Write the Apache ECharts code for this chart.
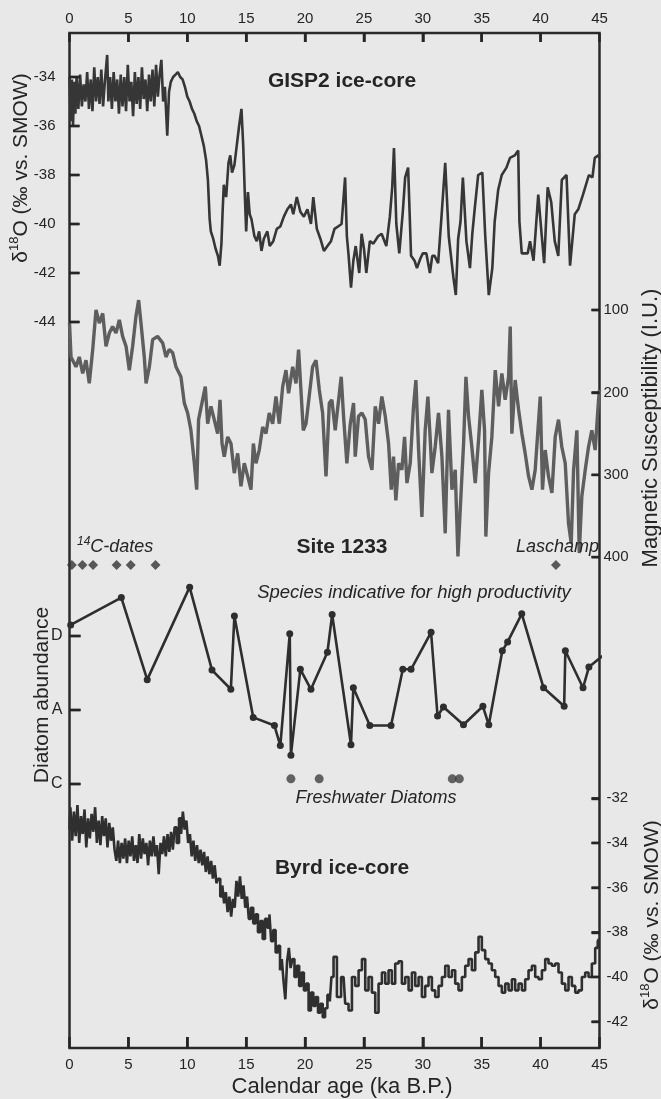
<!DOCTYPE html>
<html>
<head>
<meta charset="utf-8">
<title>GISP2 / Site 1233 / Byrd</title>
<script src="https://cdn.jsdelivr.net/npm/echarts@6/dist/echarts.min.js"></script>
<style>
  html, body { margin: 0; padding: 0; background: #e8e8e8; }
  #chart { width: 661px; height: 1099px; }
</style>
</head>
<body>
<div id="chart"></div>
<script>
// tick values
var ageTicks = [0, 5, 10, 15, 20, 25, 30, 35, 40, 45];
var gispTicks = [-34, -36, -38, -40, -42, -44];
var magTicks = [100, 200, 300, 400];
var byrdTicks = [-32, -34, -36, -38, -40, -42];
var diatomLevels = [1, 2, 3];
var diatomClasses = ['C', 'A', 'D'];

// GISP2 d18O [age ka, permil]
var gisp2 = [
  [0.0,-34.0],[0.1,-35.8],[0.2,-34.1],[0.3,-36.0],[0.4,-34.2],[0.5,-35.5],[0.6,-34.0],[0.75,-35.3],[0.9,-33.9],
  [1.05,-35.2],[1.2,-34.3],[1.35,-35.0],[1.5,-33.8],[1.65,-35.3],[1.8,-34.1],[1.95,-35.4],[2.1,-33.6],[2.25,-35.0],
  [2.4,-34.0],[2.55,-35.1],[2.7,-33.7],[2.85,-35.2],[3.0,-34.2],[3.2,-33.1],[3.3,-35.0],[3.45,-34.0],[3.6,-35.3],
  [3.75,-33.8],[3.9,-35.0],[4.05,-34.1],[4.2,-35.5],[4.35,-33.9],[4.5,-35.2],[4.65,-34.0],[4.8,-35.4],[4.95,-33.5],
  [5.1,-35.0],[5.25,-34.2],[5.4,-35.6],[5.55,-33.8],[5.7,-35.1],[5.85,-34.0],[6.0,-35.3],[6.15,-33.6],[6.3,-34.9],
  [6.45,-34.1],[6.6,-35.4],[6.75,-33.9],[6.9,-35.0],[7.05,-33.7],[7.2,-35.2],[7.35,-33.5],[7.5,-34.8],[7.65,-33.9],
  [7.8,-33.3],[7.95,-35.0],[8.1,-34.4],[8.3,-36.4],[8.45,-34.6],[8.6,-34.2],[8.8,-34.0],[9.0,-33.9],[9.2,-33.8],
  [9.4,-34.0],[9.6,-34.1],[9.8,-34.4],[10.0,-34.8],[10.2,-35.0],[10.4,-35.3],[10.6,-35.5],[10.8,-35.8],[11.0,-36.0],
  [11.2,-36.4],[11.4,-36.8],[11.6,-37.4],[11.75,-38.2],[11.9,-39.8],[12.0,-40.3],[12.2,-40.6],[12.4,-41.0],[12.6,-41.3],
  [12.75,-41.7],[12.9,-40.8],[13.0,-39.5],[13.1,-38.4],[13.3,-38.9],[13.5,-37.5],[13.65,-37.2],[13.8,-37.9],[14.0,-37.6],
  [14.2,-36.8],[14.4,-36.0],[14.6,-35.3],[14.75,-36.8],[14.9,-39.0],[15.0,-40.3],[15.15,-38.7],[15.3,-39.6],[15.45,-39.8],
  [15.7,-40.5],[15.9,-40.7],[16.1,-40.3],[16.3,-41.1],[16.5,-40.6],[16.8,-40.3],[17.0,-40.9],[17.3,-40.7],[17.6,-40.2],
  [17.9,-40.1],[18.2,-39.7],[18.5,-39.4],[18.8,-39.2],[19.0,-39.6],[19.3,-38.9],[19.6,-39.5],[19.9,-39.7],[20.2,-39.4],
  [20.5,-40.0],[20.7,-38.9],[21.0,-40.2],[21.3,-40.6],[21.6,-41.1],[21.9,-40.9],[22.2,-40.7],[22.5,-40.2],[22.8,-40.1],
  [23.1,-40.0],[23.4,-38.1],[23.55,-40.5],[23.7,-41.3],[23.9,-42.6],[24.1,-41.5],[24.3,-40.9],[24.6,-42.0],[24.8,-40.4],
  [25.0,-41.0],[25.2,-42.0],[25.5,-40.7],[25.8,-40.8],[26.2,-40.5],[26.5,-40.4],[26.9,-40.9],[27.2,-39.7],[27.4,-38.5],
  [27.55,-36.9],[27.75,-40.0],[28.0,-41.2],[28.3,-39.5],[28.5,-38.1],[28.75,-37.7],[29.0,-41.3],[29.3,-41.5],[29.5,-41.8],
  [29.8,-41.4],[30.0,-41.2],[30.3,-41.2],[30.6,-42.0],[30.8,-41.3],[31.0,-41.3],[31.3,-41.6],[31.6,-39.6],[31.9,-37.5],
  [32.2,-40.5],[32.6,-42.2],[32.8,-42.9],[33.0,-40.6],[33.2,-39.9],[33.4,-38.1],[33.7,-40.7],[34.0,-41.8],[34.2,-40.4],
  [34.4,-39.4],[34.7,-38.0],[35.05,-37.9],[35.3,-40.5],[35.6,-42.9],[35.9,-41.8],[36.1,-39.9],[36.4,-38.6],[36.7,-38.0],
  [37.1,-37.7],[37.4,-37.3],[37.8,-37.2],[38.1,-37.0],[38.2,-39.9],[38.4,-41.2],[38.9,-41.2],[39.1,-40.7],[39.4,-41.5],
  [39.8,-38.8],[40.1,-40.5],[40.3,-41.6],[40.6,-38.5],[40.9,-39.1],[41.2,-40.7],[41.5,-41.3],[41.8,-38.2],[42.2,-38.0],
  [42.5,-41.7],[42.9,-39.6],[43.2,-39.4],[43.6,-38.8],[44.1,-38.0],[44.4,-38.1],[44.6,-37.3],[44.9,-37.2],[45.0,-37.3]
];

// Site 1233 magnetic susceptibility [age ka, I.U.]
var site1233 = [
  [0.0,116],[0.13,157],[0.55,169],[0.83,157],[1.12,177],[1.4,161],[1.68,189],[1.97,148],[2.25,100],[2.53,116],
  [2.82,104],[3.1,144],[3.38,128],[3.66,120],[3.95,128],[4.23,112],[4.51,132],[4.8,144],[5.08,173],[5.36,144],
  [5.64,108],[5.87,88],[6.07,116],[6.35,157],[6.5,189],[6.78,169],[7.06,136],[7.48,132],[7.91,140],[8.19,157],
  [8.47,148],[8.76,152],[9.04,169],[9.46,181],[9.75,213],[10.03,225],[10.31,246],[10.6,286],[10.8,318],[10.96,233],
  [11.3,209],[11.53,193],[11.73,238],[12.01,217],[12.29,233],[12.58,250],[12.78,209],[12.95,262],[13.14,278],[13.43,254],
  [13.71,262],[13.99,298],[14.28,274],[14.56,314],[14.84,286],[15.13,302],[15.41,318],[15.61,262],[15.83,286],[16.11,270],
  [16.4,242],[16.68,250],[16.96,225],[17.25,238],[17.53,205],[17.81,238],[18.1,193],[18.38,173],[18.6,201],[18.95,169],
  [19.23,189],[19.45,148],[19.65,197],[19.85,246],[20.08,238],[20.64,169],[20.93,161],[21.21,197],[21.49,225],[21.78,302],
  [22.06,213],[22.28,209],[22.56,246],[23.07,181],[23.27,229],[23.55,286],[23.84,238],[24.12,213],[24.26,278],[24.54,229],
  [24.83,225],[25.11,233],[25.39,278],[25.68,294],[25.96,217],[26.24,238],[26.52,205],[26.81,229],[27.09,262],[27.32,318],
  [27.51,278],[27.71,331],[27.94,286],[28.22,294],[28.45,254],[28.65,310],[28.93,286],[29.21,217],[29.41,185],[29.64,270],
  [29.92,351],[30.2,246],[30.43,205],[30.63,258],[30.77,298],[31.05,266],[31.33,225],[31.62,278],[31.9,371],[32.18,221],
  [32.47,318],[32.75,294],[32.98,399],[33.26,318],[33.46,262],[33.66,181],[33.88,229],[34.16,266],[34.45,310],[34.73,258],
  [35.01,197],[35.24,246],[35.35,375],[35.58,298],[35.86,254],[36.15,173],[36.43,217],[36.71,177],[36.99,209],[37.28,181],
  [37.42,120],[37.56,250],[37.84,185],[38.13,221],[38.41,250],[38.69,274],[38.98,302],[39.26,318],[39.54,294],[39.97,205],
  [40.16,318],[40.39,270],[40.67,302],[40.96,322],[41.24,254],[41.52,233],[41.8,266],[42.09,286],[42.37,359],[42.6,383],
  [42.8,294],[43.08,246],[43.28,395],[43.5,326],[43.79,294],[44.07,266],[44.35,246],[44.63,270],[44.92,209],[45.0,197]
];

// diatoms: high-productivity species abundance class (1 = C, 2 = A, 3 = D)
var diatomHighProd = [
  [0.1,3.15],[4.4,3.52],[6.6,2.41],[10.2,3.66],[12.1,2.54],[13.7,2.28],[14.0,3.27],[15.6,1.9],[17.4,1.79],[17.9,1.52],
  [18.7,3.03],[18.8,1.39],[19.6,2.55],[20.5,2.28],[21.9,2.78],[22.3,3.29],[23.9,1.53],[24.1,2.3],[25.5,1.79],[27.3,1.79],
  [28.3,2.55],[29.0,2.55],[30.7,3.05],[31.25,1.92],[31.75,2.04],[33.45,1.8],[35.1,2.05],[35.6,1.8],[36.75,2.8],[37.2,2.92],
  [38.4,3.3],[40.25,2.3],[42.0,2.05],[42.1,2.8],[43.6,2.3],[44.1,2.58],[45.4,2.75]
];
var freshwaterAges = [18.8, 21.2, 32.5, 33.1];
var c14Ages = [0.2, 1.1, 2.0, 4.0, 5.2, 7.3];
var laschampAges = [41.3];

// Byrd d18O [age ka, permil]
var byrd = [
  [0.0,-33.4],[0.15,-32.4],[0.3,-33.9],[0.45,-32.6],[0.6,-33.7],[0.75,-32.3],[0.9,-34.0],[1.05,-32.8],[1.2,-33.6],
  [1.35,-32.5],[1.5,-34.2],[1.65,-32.9],[1.8,-33.8],[1.95,-32.7],[2.1,-33.5],[2.25,-32.4],[2.4,-34.0],[2.55,-33.0],
  [2.7,-34.1],[2.85,-32.8],[3.0,-33.7],[3.15,-32.9],[3.3,-34.2],[3.45,-33.1],[3.6,-33.9],[3.75,-33.3],[3.9,-34.3],
  [4.05,-34.8],[4.2,-33.9],[4.35,-34.9],[4.5,-34.0],[4.65,-34.7],[4.8,-33.8],[4.95,-34.9],[5.1,-33.9],[5.25,-34.6],
  [5.4,-33.7],[5.55,-34.8],[5.7,-34.1],[5.85,-34.9],[6.0,-33.6],[6.15,-34.7],[6.3,-33.8],[6.45,-34.5],[6.6,-34.0],
  [6.75,-35.0],[6.9,-33.9],[7.05,-34.6],[7.2,-33.7],[7.35,-34.6],[7.5,-34.1],[7.65,-35.4],[7.8,-34.0],[7.95,-34.5],
  [8.1,-33.7],[8.25,-34.6],[8.4,-33.6],[8.55,-34.4],[8.7,-33.5],[8.85,-34.3],[9.0,-33.3],[9.2,-34.0],[9.4,-32.9],
  [9.55,-33.6],[9.7,-32.6],[9.85,-33.4],[10.0,-33.0],[10.15,-34.0],[10.3,-33.6],[10.45,-34.6],[10.6,-33.9],[10.75,-34.8],
  [10.9,-34.1],[11.05,-34.9],[11.2,-34.3],[11.35,-35.0],[11.5,-34.4],[11.65,-35.3],[11.8,-34.6],[11.95,-35.4],[12.1,-34.8],
  [12.25,-35.6],[12.4,-35.0],[12.55,-35.8],[12.7,-35.6],[12.9,-36.4],[13.05,-35.9],[13.2,-36.7],[13.35,-36.2],[13.5,-37.1],
  [13.65,-36.4],[13.8,-37.3],[13.95,-36.5],[14.1,-36.9],[14.25,-35.7],[14.4,-36.4],[14.55,-35.5],[14.7,-36.5],[14.85,-35.9],
  [15.0,-36.9],[15.15,-36.4],[15.3,-37.4],[15.5,-36.9],[15.7,-37.6],[15.9,-37.2],[16.1,-38.0],[16.3,-37.5],[16.5,-38.3],
  [16.7,-37.4],[16.9,-37.8],[17.05,-37.2],[17.2,-38.4],[17.4,-37.9],[17.6,-38.9],[17.8,-38.6],[17.95,-39.7],[18.1,-39.2],
  [18.25,-40.2],[18.4,-41.0],[18.55,-39.3],[18.7,-38.7],[18.85,-39.6],[19.0,-39.2],[19.2,-40.0],[19.4,-39.5],[19.6,-40.4],
  [19.8,-39.8],[20.0,-40.6],[20.2,-40.3],[20.4,-41.5],[20.6,-40.7],[20.8,-41.3],[21.0,-40.9],[21.2,-41.6],[21.4,-41.2],
  [21.6,-41.8],[21.8,-41.4],[22.0,-40.8],[22.2,-41.1],[22.28,-40.0],[22.56,-39.1],[22.85,-40.9],[23.27,-40.0],[23.55,-41.2],
  [23.84,-41.5],[24.12,-40.0],[24.4,-40.4],[24.69,-39.7],[24.97,-39.2],[25.25,-40.6],[25.53,-40.0],[25.82,-40.7],[26.1,-41.6],
  [26.38,-40.3],[26.67,-39.8],[26.95,-40.3],[27.23,-39.7],[27.51,-40.3],[27.8,-39.4],[28.08,-39.3],[28.36,-40.3],[28.65,-40.0],
  [28.93,-40.6],[29.21,-39.8],[29.5,-40.4],[29.78,-40.0],[30.06,-40.9],[30.34,-40.4],[30.63,-40.0],[30.91,-40.6],[31.19,-40.9],
  [31.48,-40.4],[31.76,-40.0],[32.04,-39.5],[32.33,-40.0],[32.61,-39.7],[32.89,-40.3],[33.17,-40.6],[33.46,-40.0],[33.74,-39.5],
  [34.02,-39.2],[34.31,-39.7],[34.59,-38.9],[34.87,-38.2],[35.15,-38.8],[35.44,-39.2],[35.72,-39.4],[36.0,-39.7],[36.29,-40.0],
  [36.57,-40.4],[36.85,-40.7],[37.14,-40.3],[37.42,-40.6],[37.7,-40.1],[37.98,-40.6],[38.27,-40.3],[38.55,-40.6],[38.83,-40.1],
  [39.12,-39.7],[39.4,-39.5],[39.68,-40.0],[39.97,-40.1],[40.25,-39.7],[40.53,-39.2],[40.81,-39.4],[41.1,-39.5],[41.38,-39.4],
  [41.66,-39.8],[41.95,-40.3],[42.23,-40.6],[42.51,-40.0],[42.8,-40.4],[43.08,-40.7],[43.36,-40.6],[43.64,-40.0],[43.93,-39.8],
  [44.21,-40.0],[44.49,-39.4],[44.78,-38.7],[44.92,-38.4],[45.0,-38.3]
];

var FONT = 'Liberation Sans, Arial, Helvetica, sans-serif';
var INK = '#252525';
var DATE_ROW = 3.96;   // diamond row, on the diatom axis
var FRESH_ROW = 1.07;  // freshwater dot row, on the diatom axis

var chart = echarts.init(document.getElementById('chart'));

// every panel shares the same horizontal extent as the frame
var L = 69.5, R = 661 - 599.5;

function panelX(grid) {
  return { type: 'value', gridIndex: grid, min: 0, max: 45, show: false };
}

function sideAxis(grid, pos, min, max, ticks, tickLen, margin, extra) {
  var ax = {
    type: 'value', gridIndex: grid, position: pos, min: min, max: max, z: 10,
    axisLine: { show: false, onZero: false },
    splitLine: { show: false },
    axisTick: { show: true, inside: true, length: tickLen, customValues: ticks,
      lineStyle: { color: INK, width: 2.4 } },
    axisLabel: { show: true, customValues: ticks, margin: margin,
      color: INK, fontSize: 15, fontFamily: FONT }
  };
  for (var k in extra) ax[k] = extra[k];
  return ax;
}

// inward tick marks drawn as thin filled bars on top, placed through the axis scales
function tickMarks(xi, yi, values, side, len) {
  var w = 2.4;
  return {
    type: 'custom', xAxisIndex: xi, yAxisIndex: yi, silent: true, clip: false, z: 20,
    data: values.map(function (v) {
      if (side === 'left') return [0, v];
      if (side === 'right') return [45, v];
      if (side === 'bottom') return [v, 0];
      return [v, 1];
    }),
    renderItem: function (params, api) {
      var p = api.coord([api.value(0), api.value(1)]);
      var s;
      if (side === 'left') s = { x: p[0], y: p[1] - w / 2, width: len, height: w };
      else if (side === 'right') s = { x: p[0] - len, y: p[1] - w / 2, width: len, height: w };
      else if (side === 'bottom') s = { x: p[0] - w / 2, y: p[1] - len, width: w, height: len };
      else s = { x: p[0] - w / 2, y: p[1], width: w, height: len };
      return { type: 'rect', shape: s, style: { fill: INK } };
    }
  };
}

function txt(x, y, text, size, opt) {
  opt = opt || {};
  var style = {
    text: text, fill: INK, fontSize: size, fontFamily: FONT,
    fontWeight: opt.bold ? 'bold' : 'normal',
    fontStyle: opt.italic ? 'italic' : 'normal',
    align: opt.align || 'center', verticalAlign: 'middle'
  };
  if (opt.rich) style.rich = opt.rich;
  return { type: 'text', x: x, y: y, z: 100, rotation: opt.rot || 0, style: style };
}

var d18oRich = {
  t: { fontSize: 21, fontFamily: FONT, fill: INK, lineHeight: 26 },
  s: { fontSize: 13, fontFamily: FONT, fill: INK, lineHeight: 14, verticalAlign: 'top' }
};
var d18oText = '{t|δ}{s|18}{t|O (‰ vs. SMOW)}';
var innerAges = ageTicks.slice(1, -1);

var option = {
  animation: false,
  backgroundColor: '#e8e8e8',
  textStyle: { fontFamily: FONT },
  grid: [
    // frame
    { left: L, right: R, top: 33, bottom: 51, show: true, borderColor: '#2a2a2a', borderWidth: 2.5 },
    // GISP2
    { left: L, right: R, top: 28, height: 294 },
    // Site 1233
    { left: L, right: R, top: 227.6, height: 412 },
    // diatoms
    { left: L, right: R, top: 562, height: 259 },
    // Byrd
    { left: L, right: R, top: 753.6, height: 312.7 }
  ],
  xAxis: [
    { type: 'value', gridIndex: 0, position: 'bottom', min: 0, max: 45, interval: 5, z: 10,
      axisLine: { show: false, onZero: false }, splitLine: { show: false },
      axisTick: { inside: true, length: 11, lineStyle: { color: INK, width: 2.5 } },
      axisLabel: { margin: 9, color: INK, fontSize: 15, fontFamily: FONT } },
    { type: 'value', gridIndex: 0, position: 'top', min: 0, max: 45, interval: 5, z: 10,
      axisLine: { show: false, onZero: false }, splitLine: { show: false },
      axisTick: { inside: true, length: 9, lineStyle: { color: INK, width: 2.5 } },
      axisLabel: { margin: 7, color: INK, fontSize: 15, fontFamily: FONT } },
    panelX(1), panelX(2), panelX(3), panelX(4)
  ],
  yAxis: [
    { type: 'value', gridIndex: 0, show: false, min: 0, max: 1 },
    sideAxis(1, 'left', -44, -32, gispTicks, 10, 14, {}),
    sideAxis(2, 'right', 0, 500, magTicks, 8, 4, { inverse: true }),
    sideAxis(3, 'left', 0.5, 4, diatomLevels, 11, 7, {}),
    sideAxis(4, 'right', -44, -30, byrdTicks, 8, 7, {})
  ],
  series: [
    { name: 'Site 1233', type: 'line', xAxisIndex: 3, yAxisIndex: 2, data: site1233,
      showSymbol: false, clip: true,
      lineStyle: { color: '#5e5e5e', width: 3.4 } },
    { name: 'GISP2', type: 'line', xAxisIndex: 2, yAxisIndex: 1, data: gisp2,
      showSymbol: false, clip: true,
      lineStyle: { color: '#363636', width: 2.6 } },
    { name: 'Diatoms high productivity', type: 'line', xAxisIndex: 4, yAxisIndex: 3, data: diatomHighProd,
      symbol: 'circle', symbolSize: 7, clip: true,
      itemStyle: { color: '#2e2e2e' },
      lineStyle: { color: '#2e2e2e', width: 2.6 } },
    { name: 'Freshwater Diatoms', type: 'scatter', xAxisIndex: 4, yAxisIndex: 3,
      data: freshwaterAges.map(function (a) { return [a, FRESH_ROW]; }),
      symbol: 'circle', symbolSize: 9, itemStyle: { color: '#3e3e3e' } },
    { name: '14C-dates', type: 'scatter', xAxisIndex: 4, yAxisIndex: 3,
      data: c14Ages.concat(laschampAges).map(function (a) { return [a, DATE_ROW]; }),
      symbol: 'diamond', symbolSize: 10, itemStyle: { color: '#333' } },
    { name: 'Byrd', type: 'line', xAxisIndex: 5, yAxisIndex: 4, data: byrd,
      step: 'middle', showSymbol: false, clip: true,
      lineStyle: { color: '#2f2f2f', width: 2.6 } },
    tickMarks(0, 0, innerAges, 'bottom', 11),
    tickMarks(0, 0, innerAges, 'top', 9),
    tickMarks(2, 1, gispTicks, 'left', 10),
    tickMarks(3, 2, magTicks, 'right', 8),
    tickMarks(4, 3, diatomLevels, 'left', 11),
    tickMarks(5, 4, byrdTicks, 'right', 8)
  ],
  graphic: [
    txt(342, 81, 'GISP2 ice-core', 21, { bold: true }),
    txt(342, 547, 'Site 1233', 21, { bold: true }),
    txt(342, 868, 'Byrd ice-core', 21, { bold: true }),
    txt(77, 547, '{s|14}{i|C-dates}', 18, { align: 'left', rich: {
      s: { fontSize: 12, fontStyle: 'italic', fontFamily: FONT, fill: INK, lineHeight: 12, verticalAlign: 'top' },
      i: { fontSize: 18, fontStyle: 'italic', fontFamily: FONT, fill: INK, lineHeight: 22 } } }),
    txt(599, 547, 'Laschamp', 18, { italic: true, align: 'right' }),
    txt(414, 593, 'Species indicative for high productivity', 18.5, { italic: true }),
    txt(376, 798, 'Freshwater Diatoms', 18, { italic: true }),
    txt(342, 1087, 'Calendar age (ka B.P.)', 22),
    txt(21, 168, d18oText, 21, { rot: Math.PI / 2, rich: d18oRich }),
    txt(42, 695, 'Diatom abundance', 21, { rot: Math.PI / 2 }),
    txt(651, 428, 'Magnetic Susceptibility (I.U.)', 22, { rot: Math.PI / 2 }),
    txt(652, 915, d18oText, 21, { rot: Math.PI / 2, rich: d18oRich })
  ]
};

option.yAxis[3].axisLabel.formatter = function (v) {
  return diatomClasses[diatomLevels.indexOf(v)] || '';
};
option.yAxis[3].axisLabel.fontSize = 16;

chart.setOption(option);
</script>
</body>
</html>
